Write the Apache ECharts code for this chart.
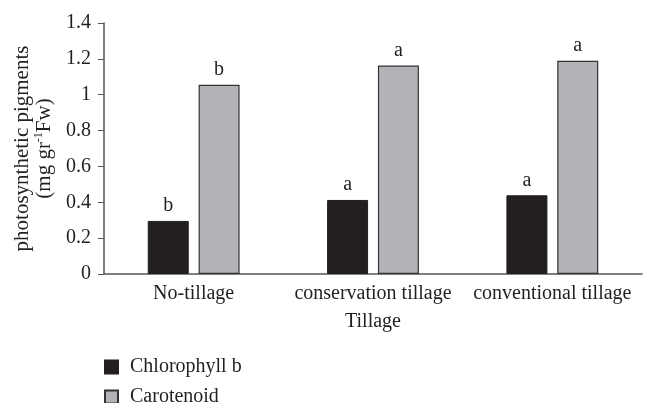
<!DOCTYPE html>
<html><head><meta charset="utf-8">
<script src="https://cdn.jsdelivr.net/npm/echarts@6/dist/echarts.min.js"></script>
<style>html,body{margin:0;padding:0;background:#fff}#c{width:649px;height:403px}</style>
</head><body><div id="c"></div>
<script>
const categories = ['No-tillage', 'conservation tillage', 'conventional tillage'];
const chlorophyllB = [0.296, 0.413, 0.439];
const carotenoid = [1.055, 1.163, 1.189];
const chlLetters = ['b', 'a', 'a'];
const carLetters = ['b', 'a', 'a'];
const yTicks = [0, 0.2, 0.4, 0.6, 0.8, 1, 1.2, 1.4];

const FONT = 'Liberation Serif';
const TXT = '#231f20';
const FS = 20;
const chart = echarts.init(document.getElementById('c'));
function letterLabel(arr){
  return {show:true, position:'top', distance:5, fontFamily:FONT, fontSize:FS, color:TXT,
    formatter: p => arr[p.dataIndex]};
}
chart.setOption({
  animation:false,
  textStyle:{fontFamily:FONT, color:TXT},
  grid:{left:104, right:7, top:23, bottom:129, containLabel:false, outerBoundsMode:'none'},
  legend:{
    orient:'vertical', left:104, top:357, height:60, padding:0,
    itemWidth:13, itemHeight:13, itemGap:10,
    icon:'rect', textStyle:{fontFamily:FONT, fontSize:FS, color:TXT, lineHeight:20, padding:[0,0,0,7]},
    data:['Chlorophyll b','Carotenoid']
  },
  xAxis:{
    type:'category', data:categories,
    axisLine:{lineStyle:{color:'#555', width:1.5}},
    axisTick:{show:false},
    axisLabel:{fontFamily:FONT, fontSize:FS, color:TXT, margin:10, interval:0},
    name:'Tillage', nameLocation:'middle', nameGap:38,
    nameTextStyle:{fontFamily:FONT, fontSize:FS, color:TXT}
  },
  yAxis:{
    type:'value', min:0, max:1.4, interval:0.2,
    axisLine:{show:true, lineStyle:{color:'#555', width:1.5}},
    axisTick:{show:true, length:6, inside:false, lineStyle:{color:'#555'}},
    splitLine:{show:false},
    axisLabel:{fontFamily:FONT, fontSize:FS, color:TXT, margin:13,
      formatter: v => { const t = yTicks.find(x => Math.abs(x - v) < 1e-6); return t === undefined ? '' : String(t); }},
    name:'{a|photosynthetic pigments}\n{a|(mg gr}{s|-1}{a|Fw)}',
    nameLocation:'middle', nameGap:48, nameRotate:90,
    nameTextStyle:{fontFamily:FONT, fontSize:21, color:TXT, lineHeight:22, align:'center',
      rich:{a:{fontFamily:FONT, fontSize:21, color:TXT, lineHeight:22},
            s:{fontFamily:FONT, fontSize:12, color:TXT, lineHeight:22, verticalAlign:'top', padding:[0,0,6,0]}}}
  },
  series:[
    {name:'Chlorophyll b', type:'bar', data:chlorophyllB, barWidth:41, barGap:'24%',
     itemStyle:{color:'#231f20', borderColor:'#231f20', borderWidth:1},
     label:letterLabel(chlLetters)},
    {name:'Carotenoid', type:'bar', data:carotenoid, barWidth:41,
     itemStyle:{color:'#b2b3b7', borderColor:'#333', borderWidth:1.2},
     label:letterLabel(carLetters)}
  ]
});
</script></body></html>
